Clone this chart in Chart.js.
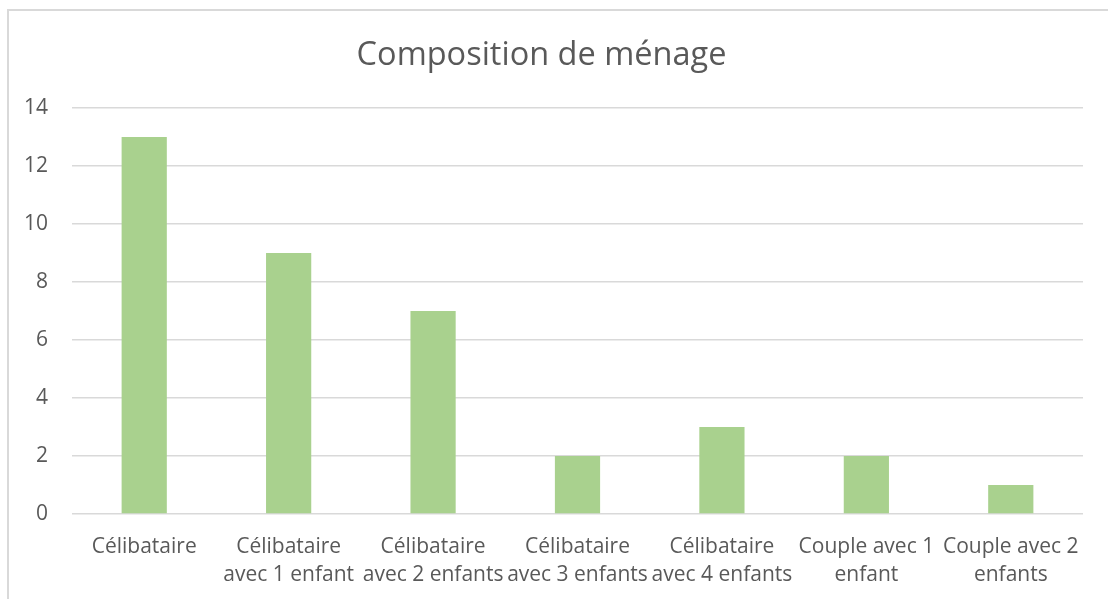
<!DOCTYPE html>
<html>
<head>
<meta charset="utf-8">
<script src="https://cdn.jsdelivr.net/npm/chart.js@4/dist/chart.umd.min.js"></script>
<style>
html,body{margin:0;padding:0;background:#fff;}
#wrap{position:relative;width:1108px;height:599px;overflow:hidden;}
#frame{position:absolute;left:7px;top:9px;width:1200px;height:700px;border-left:2px solid #d9d9d9;border-top:2px solid #d9d9d9;}
canvas{position:absolute;left:0;top:0;}
</style>
</head>
<body>
<div id="wrap">
<div id="frame"></div>
<canvas id="c" width="1108" height="599"></canvas>
</div>
<script>
const chartTitle = "Composition de ménage";
const categories = [
  ["Célibataire"],
  ["Célibataire", "avec 1 enfant"],
  ["Célibataire", "avec 2 enfants"],
  ["Célibataire", "avec 3 enfants"],
  ["Célibataire", "avec 4 enfants"],
  ["Couple avec 1", "enfant"],
  ["Couple avec 2", "enfants"]
];
const values = [13, 9, 7, 2, 3, 2, 1];
const yTicks = [0, 2, 4, 6, 8, 10, 12, 14];

const textColor = "#595959";
const fontFamily = "'Open Sans', sans-serif";

new Chart(document.getElementById("c"), {
  type: "bar",
  data: {
    labels: categories,
    datasets: [{
      data: values,
      backgroundColor: "#a9d18e",
      borderWidth: 0,
      barPercentage: 0.313,
      categoryPercentage: 1.0
    }]
  },
  options: {
    responsive: false,
    animation: false,
    layout: { padding: { left: 0, right: 25, top: 0, bottom: 0 } },
    plugins: {
      legend: { display: false },
      tooltip: { enabled: false },
      title: {
        display: true,
        text: chartTitle,
        color: textColor,
        font: { family: fontFamily, size: 32.5, weight: "normal", lineHeight: 1.2 },
        padding: { top: 36, bottom: 33 }
      }
    },
    scales: {
      x: {
        grid: { display: false, drawTicks: false },
        border: { display: false },
        ticks: {
          color: textColor,
          font: { family: fontFamily, size: 21, lineHeight: 1.333 },
          padding: 19,
          maxRotation: 0,
          autoSkip: false
        },
        afterFit: (s) => { s.height = 85; }
      },
      y: {
        min: 0,
        max: 14,
        afterBuildTicks: (s) => { s.ticks = yTicks.map(v => ({ value: v })); },
        grid: { color: "#d9d9d9", lineWidth: 1.5, drawTicks: false },
        border: { display: false },
        ticks: {
          color: textColor,
          font: { family: fontFamily, size: 21 },
          padding: 24
        },
        afterFit: (s) => { s.width = 72; }
      }
    }
  }
});
</script>
</body>
</html>
